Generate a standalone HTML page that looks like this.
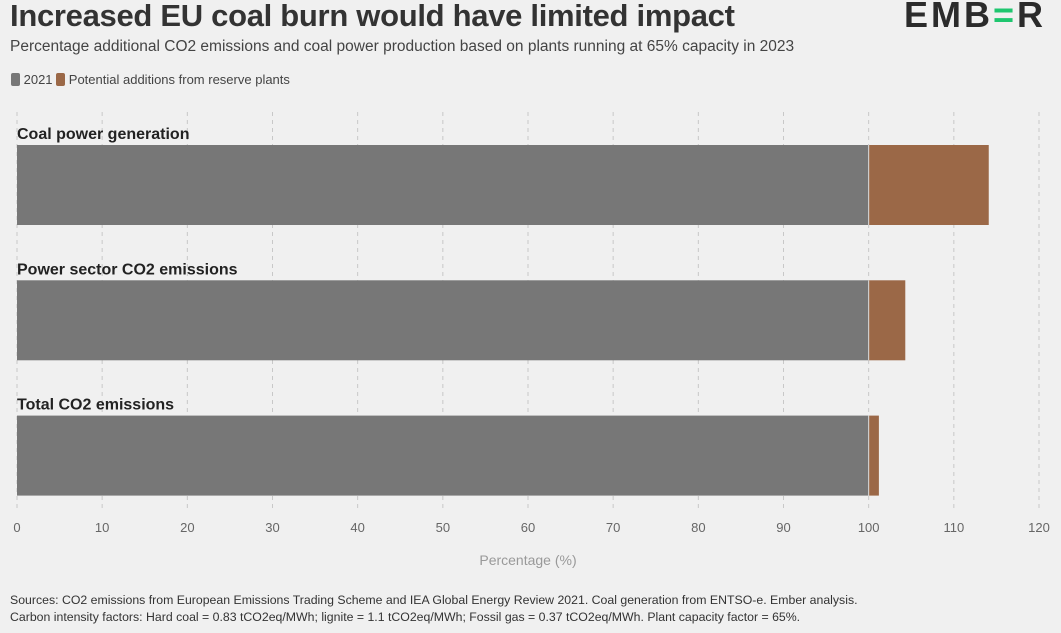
<!DOCTYPE html>
<html><head><meta charset="utf-8"><style>
body{margin:0;width:1061px;height:633px;background:#f0f0f0;font-family:"Liberation Sans",sans-serif;overflow:hidden;position:relative}
.t{position:absolute;white-space:nowrap}
</style></head><body>
<div class="t" style="left:10px;top:-2px;font-size:31px;font-weight:bold;color:#333;letter-spacing:-0.3px">Increased EU coal burn would have limited impact</div>
<div class="t" style="left:10px;top:38px;font-size:15.5px;color:#444">Percentage additional CO2 emissions and coal power production based on plants running at 65% capacity in 2023</div>
<div class="t" style="left:904px;top:-6px;font-size:36px;font-weight:bold;color:#2b2b2b;letter-spacing:3px">EMB<span style="color:#1fc66f">=</span>R</div>
<div class="t" style="left:11px;top:72px;font-size:13px;color:#444">
<span><span style="display:inline-block;width:9px;height:13px;background:#777;border-radius:2px;vertical-align:-2px"></span> 2021</span>
<span><span style="display:inline-block;width:9px;height:13px;background:#9b6847;border-radius:2px;vertical-align:-2px"></span> Potential additions from reserve plants</span></div>
<svg id="chart" width="1061" height="633" style="position:absolute;left:0;top:0"></svg>
<div class="t" style="left:10px;top:592px;font-size:12.3px;color:#333;line-height:17px">Sources: CO2 emissions from European Emissions Trading Scheme and IEA Global Energy Review 2021. Coal generation from ENTSO-e. Ember analysis.<br>Carbon intensity factors: Hard coal = 0.83 tCO2eq/MWh; lignite = 1.1 tCO2eq/MWh; Fossil gas = 0.37 tCO2eq/MWh. Plant capacity factor = 65%.</div>
<script>
const categories=["Coal power generation","Power sector CO2 emissions","Total CO2 emissions"];
const base2021=[100,100,100];
const additions=[14.1,4.3,1.2];
const ticks=[0,10,20,30,40,50,60,70,80,90,100,110,120];
const svg=document.getElementById('chart');
const NS='http://www.w3.org/2000/svg';
const x=v=>17+v*(1039-17)/120;
const rowTop=i=>145+i*135.3;
function mk(t,a){const e=document.createElementNS(NS,t);for(const k in a)e.setAttribute(k,a[k]);svg.appendChild(e);return e;}
ticks.forEach(v=>{
const g=mk('line',{x1:x(v),x2:x(v),y1:112,y2:508,stroke:'#c8c8c8','stroke-dasharray':'4,4'});


const t=mk('text',{x:x(v),y:532,'text-anchor':'middle','font-size':13,fill:'#666','font-family':'Liberation Sans'});
t.textContent=v;


});
categories.forEach((c,i)=>{
const y=rowTop(i);
const l=mk('text',{x:17,y:y-6,'font-size':16,'font-weight':'bold',fill:'#222','font-family':'Liberation Sans'});
l.textContent=c;


const b=mk('rect',{x:x(0),y:y,width:x(base2021[i])-x(0),height:80,fill:'#777'});


const a=mk('rect',{x:x(base2021[i]),y:y,width:x(base2021[i]+additions[i])-x(base2021[i]),height:80,fill:'#9b6847'});


const d=mk('line',{x1:x(base2021[i]),x2:x(base2021[i]),y1:y,y2:y+80,stroke:'#ddd','stroke-width':1});


});
const at=mk('text',{x:528,y:565,'text-anchor':'middle','font-size':14,fill:'#999','font-family':'Liberation Sans'});
at.textContent='Percentage (%)';


</script>
</body></html>
